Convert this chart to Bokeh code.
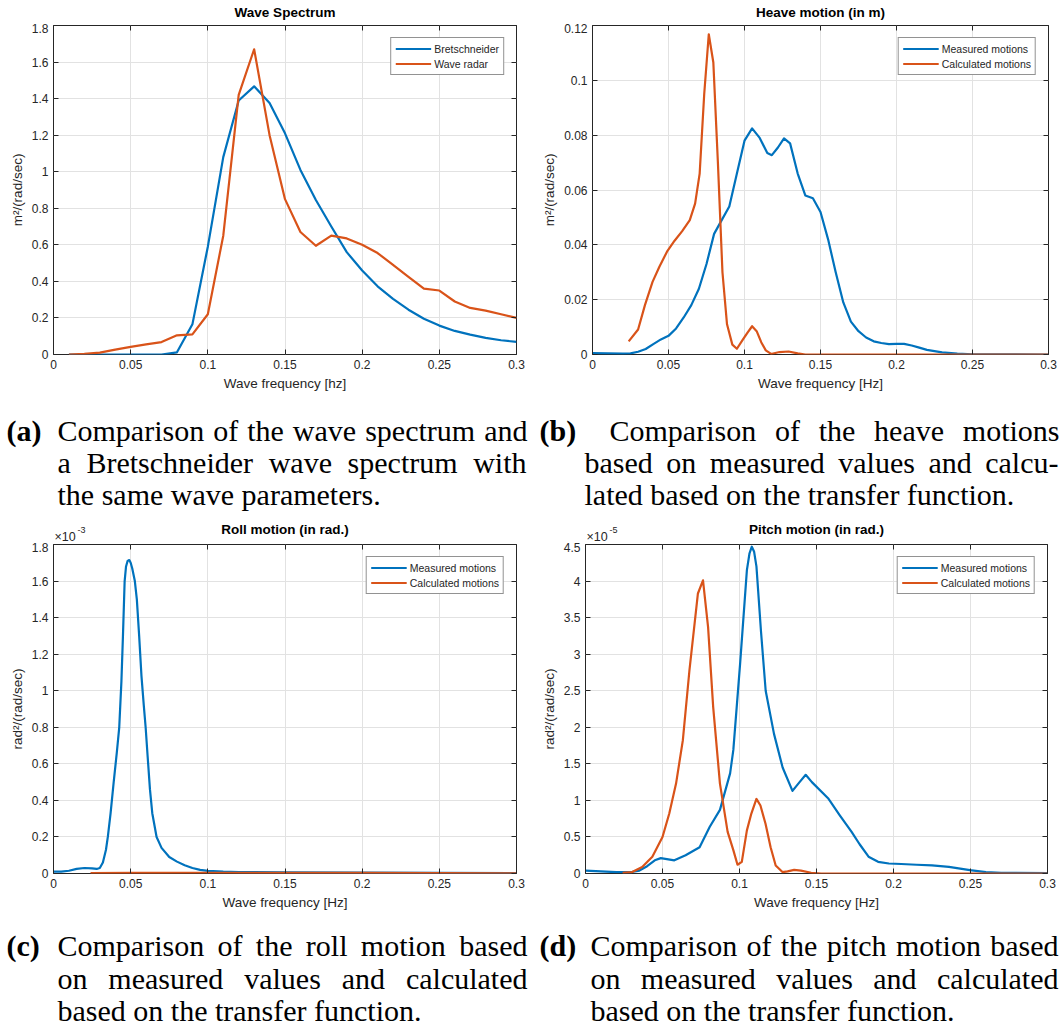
from bokeh.plotting import figure
from bokeh.layouts import column, row
from bokeh.models import Range1d, LinearAxis, FixedTicker, Label, Legend, LegendItem
from bokeh.embed import file_html
from bokeh.resources import INLINE

# ---------------------------------------------------------------- data
# (a) wave spectrum, m^2/(rad/sec)
spec_freq = [0.01, 0.02, 0.03, 0.04, 0.05, 0.06, 0.07, 0.08, 0.09, 0.10,
             0.11, 0.12, 0.13, 0.14, 0.15, 0.16, 0.17, 0.18, 0.19, 0.20,
             0.21, 0.22, 0.23, 0.24, 0.25, 0.26, 0.27, 0.28, 0.29, 0.30]
bretschneider = [0.0, 0.0, 0.0, 0.0, 0.0, 0.0, 0.0, 0.012, 0.165, 0.59,
                 1.08, 1.39, 1.467, 1.376, 1.21, 1.01, 0.845, 0.70, 0.56, 0.46,
                 0.373, 0.304, 0.245, 0.196, 0.158, 0.129, 0.109, 0.091, 0.078, 0.069]
wave_radar = [0.0, 0.003, 0.01, 0.027, 0.042, 0.055, 0.068, 0.105, 0.11, 0.22,
              0.65, 1.42, 1.67, 1.20, 0.85, 0.67, 0.595, 0.65, 0.635, 0.60,
              0.555, 0.49, 0.425, 0.36, 0.35, 0.29, 0.255, 0.24, 0.22, 0.20]

# (b) heave motion, m^2/(rad/sec)
heave_meas_freq = [0.0, 0.01, 0.02, 0.025, 0.03, 0.035, 0.04, 0.045, 0.05, 0.055,
                   0.06, 0.065, 0.07, 0.075, 0.08, 0.085, 0.09, 0.095, 0.10, 0.105,
                   0.11, 0.115, 0.118, 0.122, 0.126, 0.13, 0.135, 0.14, 0.145, 0.15,
                   0.155, 0.16, 0.165, 0.17, 0.175, 0.18, 0.185, 0.19, 0.195, 0.20,
                   0.205, 0.21, 0.215, 0.22, 0.23, 0.24, 0.25, 0.30]
heave_meas = [0.0005, 0.0004, 0.0003, 0.0004, 0.001, 0.002, 0.0038, 0.0055, 0.0068, 0.0095,
              0.0135, 0.018, 0.024, 0.033, 0.044, 0.049, 0.054, 0.066, 0.078, 0.0825,
              0.079, 0.0735, 0.0727, 0.0755, 0.0788, 0.077, 0.066, 0.058, 0.057, 0.052,
              0.042, 0.030, 0.019, 0.012, 0.0085, 0.0062, 0.0048, 0.0042, 0.0038, 0.0039,
              0.0039, 0.0033, 0.0025, 0.0017, 0.0008, 0.0003, 0.0001, 0.0]
heave_calc_freq = [0.0238, 0.0300, 0.0345, 0.0395, 0.0440, 0.0490, 0.0540, 0.0590, 0.0640, 0.0675,
                   0.0705, 0.0735, 0.0765, 0.0795, 0.0825, 0.0855, 0.0885, 0.0920, 0.0950, 0.0990,
                   0.1020, 0.1050, 0.1080, 0.1110, 0.1140, 0.1175, 0.1230, 0.1290, 0.1350, 0.1400,
                   0.3000]
heave_calc = [0.0048, 0.0091, 0.0180, 0.0265, 0.0320, 0.0375, 0.0415, 0.0450, 0.0490, 0.0550,
              0.0660, 0.0950, 0.1168, 0.1065, 0.0700, 0.0300, 0.0110, 0.0036, 0.0021, 0.0055,
              0.0080, 0.0103, 0.0085, 0.0045, 0.0015, 0.0002, 0.0009, 0.0011, 0.0004, 0.0,
              0.0]

# (c) roll motion, rad^2/(rad/sec), in units of 1e-3
roll_meas_freq = [0.0, 0.005, 0.01, 0.015, 0.02, 0.025, 0.028, 0.030, 0.032, 0.034,
                  0.0352, 0.037, 0.039, 0.041, 0.0426, 0.044, 0.045, 0.0461, 0.047, 0.048,
                  0.0491, 0.050, 0.051, 0.0527, 0.054, 0.0555, 0.057, 0.0585, 0.0597, 0.061,
                  0.0625, 0.064, 0.0668, 0.070, 0.075, 0.080, 0.085, 0.090, 0.095, 0.10,
                  0.11, 0.12, 0.15, 0.20, 0.25, 0.30]
roll_meas = [0.01, 0.01, 0.015, 0.025, 0.03, 0.028, 0.025, 0.03, 0.06, 0.13,
             0.20, 0.33, 0.50, 0.66, 0.80, 1.05, 1.30, 1.60, 1.68, 1.71,
             1.715, 1.70, 1.67, 1.60, 1.50, 1.30, 1.08, 0.92, 0.80, 0.64,
             0.46, 0.33, 0.20, 0.14, 0.09, 0.065, 0.045, 0.03, 0.02, 0.014,
             0.01, 0.008, 0.006, 0.005, 0.003, 0.002]
roll_calc_freq = [0.024, 0.05, 0.10, 0.15, 0.20, 0.25, 0.30]
roll_calc = [0.002, 0.003, 0.004, 0.003, 0.003, 0.002, 0.001]

# (d) pitch motion, rad^2/(rad/sec), in units of 1e-5
pitch_meas_freq = [0.0, 0.01, 0.02, 0.03, 0.035, 0.04, 0.045, 0.0489, 0.0577, 0.065,
                   0.0741, 0.0807, 0.0873, 0.0939, 0.096, 0.1004, 0.1048, 0.1065, 0.108, 0.1095,
                   0.111, 0.114, 0.117, 0.1224, 0.128, 0.1344, 0.139, 0.143, 0.147, 0.1575,
                   0.165, 0.1728, 0.178, 0.1838, 0.19, 0.197, 0.205, 0.215, 0.225, 0.236,
                   0.2496, 0.26, 0.27, 0.30]
pitch_meas = [0.04, 0.03, 0.02, 0.02, 0.04, 0.10, 0.18, 0.21, 0.18, 0.25,
              0.36, 0.64, 0.87, 1.37, 1.69, 2.87, 4.15, 4.38, 4.47, 4.40,
              4.20, 3.30, 2.50, 1.91, 1.45, 1.13, 1.25, 1.35, 1.25, 1.03,
              0.80, 0.57, 0.40, 0.23, 0.16, 0.137, 0.13, 0.12, 0.11, 0.09,
              0.046, 0.02, 0.01, 0.005]
pitch_calc_freq = [0.0241, 0.0303, 0.0368, 0.0434, 0.0500, 0.0544, 0.0588, 0.0632, 0.0675, 0.0730,
                   0.0763, 0.0796, 0.0829, 0.0873, 0.0923, 0.0960, 0.0987, 0.1015, 0.1048, 0.1077,
                   0.1110, 0.1136, 0.1169, 0.1202, 0.1235, 0.1279, 0.1312, 0.1355, 0.1399, 0.1465,
                   0.1530, 0.3000]
pitch_calc = [0.01, 0.02, 0.09, 0.23, 0.50, 0.82, 1.23, 1.82, 2.78, 3.83,
              4.01, 3.37, 2.28, 1.23, 0.57, 0.32, 0.12, 0.16, 0.59, 0.82,
              1.02, 0.93, 0.68, 0.36, 0.11, 0.02, 0.03, 0.05, 0.04, 0.01,
              0.0, 0.0]

freq_ticks = [0, 0.05, 0.1, 0.15, 0.2, 0.25, 0.3]
spec_ticks = [0, 0.2, 0.4, 0.6, 0.8, 1.0, 1.2, 1.4, 1.6, 1.8]
heave_ticks = [0, 0.02, 0.04, 0.06, 0.08, 0.1, 0.12]
roll_ticks = [0, 0.2, 0.4, 0.6, 0.8, 1.0, 1.2, 1.4, 1.6, 1.8]
pitch_ticks = [0, 0.5, 1.0, 1.5, 2.0, 2.5, 3.0, 3.5, 4.0, 4.5]

BLUE = "#0072BD"
ORANGE = "#D95319"
AXIS = "#262626"
GRID = "#e2e2e2"
SANS = "Liberation Sans"
SERIF = "Liberation Serif"
CAP_SIZE = 30
FREQ_MAX = 0.3

# advance widths (1/1000 em) of the serif face, used to justify caption lines
SERIF_ADV = {" ": 250, "(": 333, ")": 333, "-": 333, ".": 250, "a": 444, "b": 500, "c": 444,
             "d": 500, "e": 444, "f": 333, "g": 500, "h": 500, "i": 278, "j": 278, "k": 500,
             "l": 278, "m": 778, "n": 500, "o": 500, "p": 500, "q": 500, "r": 333, "s": 389,
             "t": 278, "u": 500, "v": 500, "w": 722, "x": 500, "y": 500, "z": 444,
             "B": 667, "C": 667}


def fmt(v):
    return f"{v:g}"


def text_width(s, size):
    return sum(SERIF_ADV.get(ch, 500) for ch in s) / 1000.0 * size


def header(width, height, left, right, title, title_y, exponent=None):
    """Strip above a panel; its frame spans the same columns as the panel's frame."""
    h = figure(width=width, height=height, x_range=Range1d(0, FREQ_MAX),
               y_range=Range1d(height, 0), x_axis_type=None, y_axis_type=None,
               output_backend="svg", toolbar_location=None,
               min_border_left=left, min_border_right=right, min_border_top=0, min_border_bottom=0)
    h.outline_line_color = None
    h.background_fill_color = "white"
    h.border_fill_color = "white"
    h.add_layout(Label(x=FREQ_MAX / 2, y=title_y, text=title, text_align="center",
                       text_baseline="middle", text_font=SANS, text_font_size="13.5px",
                       text_font_style="bold", text_color="black"))
    if exponent is not None:
        h.add_layout(Label(x=0, y=16, x_offset=1, text="\u00d710", text_align="left",
                           text_baseline="middle", text_font=SANS, text_font_size="12.5px",
                           text_color=AXIS))
        h.add_layout(Label(x=0, y=9.5, x_offset=24, text=exponent, text_align="left",
                           text_baseline="middle", text_font=SANS, text_font_size="9px",
                           text_color=AXIS))
    return h


def panel(width, height, borders, xlabel, ylabel, yticks, series, labels):
    left, right, top, bottom = borders
    ymax = yticks[-1]
    p = figure(width=width, height=height, x_range=Range1d(0, FREQ_MAX), y_range=Range1d(0, ymax),
               output_backend="svg", toolbar_location=None,
               min_border_left=left, min_border_right=right,
               min_border_top=top, min_border_bottom=bottom)
    p.background_fill_color = "white"
    p.border_fill_color = "white"
    p.outline_line_color = AXIS
    p.outline_line_width = 1

    xt = FixedTicker(ticks=freq_ticks, minor_ticks=[])
    yt = FixedTicker(ticks=yticks, minor_ticks=[])

    for ax, tk, vals in ((p.xaxis[0], xt, freq_ticks), (p.yaxis[0], yt, yticks)):
        ax.ticker = tk
        ax.major_label_overrides = {v: fmt(v) for v in vals}
        ax.axis_line_color = None
        ax.major_tick_in = 5
        ax.major_tick_out = 0
        ax.major_tick_line_color = AXIS
        ax.minor_tick_line_color = None
        ax.major_label_text_font = SANS
        ax.major_label_text_font_size = "12px"
        ax.major_label_text_color = AXIS
        ax.axis_label_text_font = SANS
        ax.axis_label_text_font_size = "13.5px"
        ax.axis_label_text_font_style = "normal"
        ax.axis_label_text_color = AXIS
        ax.major_label_standoff = 5
        ax.axis_label_standoff = 4
    p.xaxis[0].axis_label = xlabel
    p.yaxis[0].axis_label = ylabel

    # box ticks on the top and right edges
    for side, tk in (("above", xt), ("right", yt)):
        ax = LinearAxis(ticker=tk, axis_line_color=None, major_tick_in=5, major_tick_out=0,
                        major_tick_line_color=AXIS, minor_tick_line_color=None,
                        major_label_text_font_size="0px", major_label_standoff=0,
                        major_label_text_color=None)
        p.add_layout(ax, side)

    p.xgrid.ticker = xt
    p.ygrid.ticker = yt
    p.grid.grid_line_color = GRID
    p.grid.grid_line_width = 1

    renderers = []
    for (xs, ys), color in zip(series, (BLUE, ORANGE)):
        renderers.append(p.line(xs, ys, line_color=color, line_width=2.2, line_join="round"))

    legend = Legend(items=[LegendItem(label=lb, renderers=[r]) for lb, r in zip(labels, renderers)],
                    location="top_right", margin=12, padding=4, spacing=2,
                    glyph_width=36, glyph_height=13, label_height=13, label_standoff=3,
                    label_text_font=SANS, label_text_font_size="10.5px", label_text_color=AXIS,
                    border_line_color=AXIS, border_line_width=1,
                    background_fill_color="white", background_fill_alpha=1)
    p.add_layout(legend)
    return p


def caption(width, height, tag, tag_x, lines):
    """lines: (x_start, x_end or None, y, text); x_end given -> justified line."""
    c = figure(width=width, height=height, x_range=Range1d(0, width), y_range=Range1d(height, 0),
               x_axis_type=None, y_axis_type=None, output_backend="svg", toolbar_location=None,
               min_border=0)
    c.outline_line_color = None
    c.background_fill_color = "white"
    c.border_fill_color = "white"
    size = f"{CAP_SIZE}px"
    c.add_layout(Label(x=tag_x, y=lines[0][2], text=tag, text_align="left", text_baseline="middle",
                       text_font=SERIF, text_font_size=size, text_font_style="bold",
                       text_color="black"))
    for x0, x1, y, text in lines:
        if x1 is None:
            c.add_layout(Label(x=x0, y=y, text=text, text_align="left", text_baseline="middle",
                               text_font=SERIF, text_font_size=size, text_color="black"))
            continue
        words = text.split()
        widths = [text_width(w, CAP_SIZE) for w in words]
        gap = (x1 - x0 - sum(widths)) / (len(words) - 1)
        x = x0
        for i, (w, wd) in enumerate(zip(words, widths)):
            last = i == len(words) - 1
            c.add_layout(Label(x=x1 if last else x, y=y, text=w,
                               text_align="right" if last else "left", text_baseline="middle",
                               text_font=SERIF, text_font_size=size, text_color="black"))
            x += wd + gap
    return c


# top row
ha = header(530, 23, 53, 14, "Wave Spectrum", 12)
hb = header(530, 23, 62, 12, "Heave motion (in m)", 12)
pa = panel(530, 377, (53, 14, 2, 46), "Wave frequency [hz]",
           "m\u00b2/(rad/sec)", spec_ticks,
           [(spec_freq, bretschneider), (spec_freq, wave_radar)],
           ["Bretschneider", "Wave radar"])
pb = panel(530, 377, (62, 12, 2, 46), "Wave frequency [Hz]",
           "m\u00b2/(rad/sec)", heave_ticks,
           [(heave_meas_freq, heave_meas), (heave_calc_freq, heave_calc)],
           ["Measured motions", "Calculated motions"])

# bottom row, with the axis multipliers in the header strips
hc = header(530, 22, 53, 14, "Roll motion (in rad.)", 9, exponent="-3")
hd = header(530, 22, 55, 13, "Pitch motion (in rad.)", 9, exponent="-5")
pc = panel(530, 373, (53, 14, 2, 42), "Wave frequency [Hz]",
           "rad\u00b2/(rad/sec)", roll_ticks,
           [(roll_meas_freq, roll_meas), (roll_calc_freq, roll_calc)],
           ["Measured motions", "Calculated motions"])
pd = panel(530, 373, (55, 13, 2, 42), "Wave frequency [Hz]",
           "rad\u00b2/(rad/sec)", pitch_ticks,
           [(pitch_meas_freq, pitch_meas), (pitch_calc_freq, pitch_calc)],
           ["Measured motions", "Calculated motions"])

cap_a = caption(530, 120, "(a)", 6, [
    (57, 527, 30, "Comparison of the wave spectrum and"),
    (57, 526, 62, "a Bretschneider wave spectrum with"),
    (57, None, 94, "the same wave parameters."),
])
cap_b = caption(530, 120, "(b)", 9, [
    (79, 529, 30, "Comparison of the heave motions"),
    (54, 528, 62, "based on measured values and calcu-"),
    (54, None, 94, "lated based on the transfer function."),
])
cap_c = caption(530, 117, "(c)", 6, [
    (57, 527, 30, "Comparison of the roll motion based"),
    (57, 527, 63, "on measured values and calculated"),
    (57, None, 95, "based on the transfer function."),
])
cap_d = caption(530, 117, "(d)", 9, [
    (60, 528, 30, "Comparison of the pitch motion based"),
    (60, 528, 63, "on measured values and calculated"),
    (60, None, 95, "based on the transfer function."),
])

layout = column(
    row(column(ha, pa), column(hb, pb)),
    row(cap_a, cap_b),
    row(column(hc, pc), column(hd, pd)),
    row(cap_c, cap_d),
)
open("out.html", "w").write(file_html(layout, INLINE))
